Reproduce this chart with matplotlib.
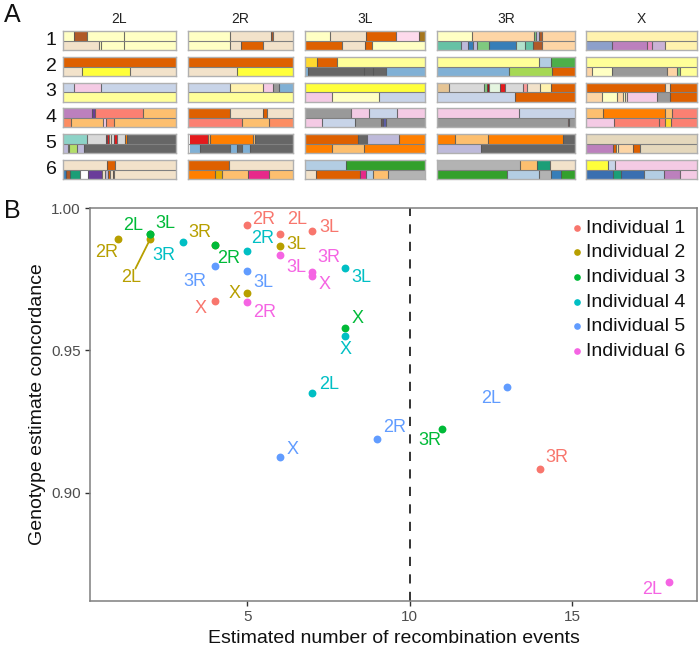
# imports
import matplotlib
matplotlib.use('Agg')
import matplotlib.pyplot as plt

plt.rcParams['font.family'] = ['Liberation Sans', 'DejaVu Sans']

# figure size in pixels, everything below is laid out in these
W, H = 700, 646

# panel A data: chromosome arm -> individual -> two haplotypes -> (segment end in %, ancestry key)
arm_names = ['2L', '2R', '3L', '3R', 'X']
individuals = ['1', '2', '3', '4', '5', '6']

segs_2L = [
    [[(10, 'ly'), (21, 'br'), (54, 'ly'), (100, 'ly')],
     [(32, 'tan'), (34, 'ly'), (54, 'ly'), (100, 'ly')]],
    [[(100, 'or')],
     [(16.5, 'tan'), (59, 'yel'), (100, 'tan')]],
    [[(9.5, 'lb'), (33.5, 'pink'), (100, 'lb')],
     [(100, 'pyel')]],
    [[(26, 'pur'), (28.5, 'dpur'), (70.6, 'sal'), (100, 'lor')],
     [(7, 'cor'), (35, 'lor'), (38, 'pink'), (45, 'cor'), (100, 'lor')]],
    [[(21, 'teal'), (38, 'lg'), (39, 'dred'), (41, 'red'), (42.5, 'tan'), (45, 'lg'), (47.5, 'red'),
      (55, 'lg'), (57, 'ora'), (100, 'dg')],
     [(4, 'lav'), (5, 'ly'), (12.4, 'lgr'), (19, 'lav'), (100, 'dg')]],
    [[(39, 'tan'), (46, 'or'), (100, 'tan')],
     [(2.6, 'bl3'), (6, 'br'), (15, 'gt'), (18, 'w'), (22, 'w'), (22.5, 'dpur'), (34.5, 'dpur'),
      (37, 'tan'), (40, 'lav'), (42, 'or'), (44, 'tan'), (45, 'br'), (100, 'tan')]],
]
segs_2R = [
    [[(40, 'ly'), (79, 'tan'), (81, 'br'), (100, 'tan')],
     [(40, 'ly'), (50, 'tan'), (71, 'or'), (100, 'tan')]],
    [[(100, 'or')],
     [(47, 'tan'), (100, 'yel')]],
    [[(1, 'w'), (40, 'lb'), (71, 'pal'), (80.5, 'pink'), (86.5, 'gr'), (100, 'bl')],
     [(1, 'w'), (100, 'pyel')]],
    [[(40, 'or'), (71, 'tan'), (75, 'or'), (100, 'tan')],
     [(51, 'sal'), (76.7, 'lor'), (100, 'cor')]],
    [[(2, 'w'), (19, 'red'), (20.5, 'lor'), (62, 'ora'), (63.5, 'lor'), (100, 'dg')],
     [(2, 'w'), (11.5, 'bl'), (40, 'dg'), (47, 'bl'), (51, 'dg'), (59, 'bl'), (100, 'dg')]],
    [[(39, 'or'), (100, 'tan')],
     [(25.5, 'ora'), (32, 'gold'), (57, 'lor'), (77, 'mag'), (100, 'lor')]],
]
segs_3L = [
    [[(21, 'ly'), (51, 'tan'), (76, 'or'), (94.7, 'lpk'), (100, 'ochre')],
     [(31, 'or'), (50, 'tan'), (55.5, 'or'), (100, 'ly')]],
    [[(10, 'yg'), (26.7, 'or'), (100, 'pyel')],
     [(2.2, 'bl'), (49.5, 'dg'), (57, 'dg'), (67.5, 'dg'), (100, 'bl')]],
    [[(100, 'yel')],
     [(22.5, 'pink'), (62, 'ly'), (100, 'lb')]],
    [[(38, 'gr'), (53.6, 'pink'), (77, 'lb'), (100, 'pink')],
     [(14, 'pink'), (41.4, 'lb'), (63, 'gr'), (64, 'br'), (65, 'pur'), (67.5, 'navy'), (100, 'gr')]],
    [[(44.4, 'or'), (51.7, 'dg'), (78, 'lav'), (100, 'ora')],
     [(22.5, 'ora'), (49.4, 'lor'), (100, 'ora')]],
    [[(34.4, 'lb2'), (100, 'grn')],
     [(9.4, 'tan'), (45.5, 'or'), (51, 'mag'), (56.7, 'lb2'), (69, 'lor'), (100, 'g3')]],
]
segs_3R = [
    [[(25, 'ly'), (70, 'pch'), (71.4, 'grm'), (73.8, 'lav'), (75.8, 'br'), (100, 'pch')],
     [(17.4, 'tg'), (22.5, 'lav'), (26, 'bl3'), (29, 'lav'), (37.8, 'grm'), (57, 'bl3'), (64, 'mint'),
      (69.7, 'tg'), (75.8, 'br'), (100, 'pch')]],
    [[(74, 'pyel'), (82.6, 'lb2'), (100, 'grn2')],
     [(52.5, 'bl'), (83.5, 'lgr2'), (100, 'or')]],
    [[(8.7, 'tor'), (34, 'lg'), (36, 'grm'), (37.5, 'dred'), (45.5, 'pgr'), (49, 'red'), (62, 'lg'),
      (65.4, 'spk'), (74.3, 'tan'), (82.5, 'pal'), (100, 'or')],
     [(56.7, 'lb'), (100, 'or')]],
    [[(59.5, 'pink'), (100, 'lb')],
     [(94.7, 'gr'), (96, 'spk'), (100, 'gr')]],
    [[(13, 'ora'), (37, 'lor'), (91, 'ora'), (100, 'dg')],
     [(32, 'lav'), (100, 'dg')]],
    [[(60.5, 'g3'), (72.5, 'lor'), (82, 'gt'), (100, 'tan')],
     [(51, 'grn'), (74, 'lb2'), (82.5, 'g3'), (90, 'bl3'), (100, 'grn')]],
]
segs_X = [
    [[(100, 'pal')],
     [(23.3, 'per'), (55, 'pur'), (59.7, 'mpk'), (71.5, 'lvp'), (100, 'pal')]],
    [[(100, 'pyel')],
     [(5, 'pch'), (23, 'ly'), (73, 'gr'), (82.4, 'pch'), (85, 'grm'), (100, 'pyel')]],
    [[(71.5, 'or'), (76, 'tan'), (100, 'or')],
     [(14, 'pch'), (28, 'ly'), (33, 'pch'), (35, 'ly'), (37, 'tan'), (64, 'pink'), (76, 'gr'), (100, 'or')]],
    [[(15, 'lor'), (71.5, 'ora'), (77.5, 'lor'), (100, 'sal')],
     [(25, 'pink'), (65.5, 'sal'), (71.5, 'sal'), (76.7, 'yg'), (100, 'sal')]],
    [[(100, 'bge')],
     [(24, 'pur'), (27, 'or'), (29, 'pal'), (42.7, 'pch'), (49, 'or'), (100, 'bge')]],
    [[(20, 'yel'), (25.8, 'lb'), (100, 'pink')],
     [(24, 'bl4'), (31.5, 'gt'), (52.7, 'bl4'), (70, 'lb2'), (85, 'pur'), (100, 'pink')]],
]
all_segs = [segs_2L, segs_2R, segs_3L, segs_3R, segs_X]

# panel B data, one set of lists per individual
ind1_x = [5, 6, 7, 4, 14]
ind1_y = [0.994, 0.991, 0.992, 0.9675, 0.9084]
ind1_arm = ['2R', '2L', '3L', 'X', '3R']

ind2_x = [1, 2, 4, 6, 5]
ind2_y = [0.989, 0.989, 0.987, 0.9865, 0.970]
ind2_arm = ['2R', '2L', '3R', '3L', 'X']

ind3_x = [2, 2, 4, 8, 11]
ind3_y = [0.991, 0.991, 0.987, 0.958, 0.9224]
ind3_arm = ['2L', '3L', '2R', 'X', '3R']

ind4_x = [3, 5, 8, 8, 7]
ind4_y = [0.988, 0.985, 0.979, 0.955, 0.935]
ind4_arm = ['3R', '2R', '3L', 'X', '2L']

ind5_x = [4, 5, 6, 9, 13]
ind5_y = [0.9795, 0.978, 0.9125, 0.919, 0.937]
ind5_arm = ['3R', '3L', 'X', '2R', '2L']

ind6_x = [6, 7, 7, 5, 18]
ind6_y = [0.9835, 0.9775, 0.976, 0.967, 0.8685]
ind6_arm = ['3L', '3R', 'X', '2R', '2L']

series_x = [ind1_x, ind2_x, ind3_x, ind4_x, ind5_x, ind6_x]
series_y = [ind1_y, ind2_y, ind3_y, ind4_y, ind5_y, ind6_y]
series_arm = [ind1_arm, ind2_arm, ind3_arm, ind4_arm, ind5_arm, ind6_arm]
legend_names = ['Individual 1', 'Individual 2', 'Individual 3',
                'Individual 4', 'Individual 5', 'Individual 6']

# styles
palette = {
    'w': '#FFFFFF', 'ly': '#FFFFC4', 'tan': '#F2E2CA', 'or': '#DE6000', 'br': '#B05A28',
    'yel': '#FFFF3A', 'pyel': '#FFFF99', 'lb': '#C8D4E8', 'pink': '#F4CAE4', 'pal': '#FFF2AE',
    'gr': '#999999', 'bl': '#80B0D5', 'pur': '#BC80BD', 'dpur': '#6A3D9A', 'sal': '#FB8072',
    'lor': '#FDBF6F', 'cor': '#FC8D62', 'teal': '#8DD3C7', 'lg': '#D9D9D9', 'dred': '#A50F15',
    'red': '#E41A1C', 'ora': '#FF7F00', 'dg': '#666666', 'lav': '#BEBADA', 'lgr': '#B3DE69',
    'bl3': '#377EB8', 'gt': '#1B9E77', 'gold': '#E6AB02', 'mag': '#E7298A', 'lpk': '#FDDAEC',
    'ochre': '#A6761D', 'yg': '#FFD92F', 'navy': '#5E5EA8', 'lb2': '#B3CDE3', 'grn': '#33A02C',
    'g3': '#B3B3B3', 'pch': '#FDD5A5', 'grm': '#7FC97F', 'tg': '#66C2A5', 'mint': '#B3E2CD',
    'grn2': '#4DAF4A', 'lgr2': '#A6D854', 'tor': '#E5C494', 'pgr': '#E5F5E0', 'spk': '#FB9A99',
    'per': '#8DA0CB', 'mpk': '#E78AC3', 'lvp': '#CAB2D6', 'bge': '#E5D8BD', 'bl4': '#3A6FB0',
}
ind_colors = ['#F8766D', '#B79F00', '#00BA38', '#00BFC4', '#619CFF', '#F564E3']

# label offsets from the point, in pixels
series_off = [
    [(16, 6), (17, 14), (17, 3), (-14, -8), (17, 11)],
    [(-11, -13), (-19, -38), (-15, 13), (16, 2), (-13, 0)],
    [(-17, 8), (15, 10), (14, -13), (13, 9), (-12, -12)],
    [(-19, -13), (15, 12), (17, -10), (1, -13), (17, 9)],
    [(-20, -15), (16, -12), (13, 8), (17, 11), (-16, -11)],
    [(16, -13), (16, 15), (12, -8), (17, -11), (-17, -7)],
]

# panel A layout in pixels
col_left = [63, 188, 305, 437, 586]
col_right = [176, 293, 425, 575, 697]
row_top = [31, 57, 82.5, 108, 134, 160]
row_h = 19


def add_px_axes(fig, left, top, right, bottom):
    return fig.add_axes([left / W, 1 - bottom / H, (right - left) / W, (bottom - top) / H])


fig = plt.figure(figsize=(W / 100, H / 100), dpi=100)

for c, arm in enumerate(arm_names):
    fig.text((col_left[c] + col_right[c]) / 2 / W, 1 - 19 / H, arm,
             ha='center', va='center', fontsize=10, color='#222222')
    for r, ind in enumerate(individuals):
        ax = add_px_axes(fig, col_left[c], row_top[r], col_right[c], row_top[r] + row_h)
        for h, hap in enumerate(all_segs[c][r]):
            start = 0
            for end, key in hap:
                ax.barh(1.5 - h, end - start, left=start, height=1, color=palette[key], linewidth=0)
                if end < 100 and key != 'w':
                    ax.plot([end, end], [1 - h, 2 - h], color='#555555', lw=0.8, alpha=0.85,
                            solid_capstyle='butt')
                start = end
        ax.axhline(1, color='#808080', lw=0.8)
        ax.set_xlim(0, 100)
        ax.set_ylim(0, 2)
        ax.set_xticks([])
        ax.set_yticks([])
        for s in ax.spines.values():
            s.set_color('#B0B0B0')
            s.set_linewidth(1.0)

for r, ind in enumerate(individuals):
    fig.text(51 / W, 1 - (row_top[r] + row_h / 2) / H, ind,
             ha='center', va='center', fontsize=14, color='#111111')

fig.text(12 / W, 1 - 15 / H, 'A', ha='center', va='center', fontsize=18, color='#111111')
fig.text(12 / W, 1 - 211 / H, 'B', ha='center', va='center', fontsize=18, color='#111111')

# panel B
ax = add_px_axes(fig, 90, 208, 697, 601)
ax.axvline(10, color='#111111', lw=1.2, dashes=(5.5, 5), zorder=1)

handles = []
for i in range(6):
    pts = ax.scatter(series_x[i], series_y[i], s=32, color=ind_colors[i], linewidths=0, zorder=3 + i * 0.1,
                     label=legend_names[i], clip_on=False)
    handles.append(pts)
    for x, y, arm, off in zip(series_x[i], series_y[i], series_arm[i], series_off[i]):
        if i == 1 and arm == '2L':
            # only label with a leader line
            ax.annotate(arm, (x, y), xytext=off, textcoords='offset pixels', ha='center', va='center',
                        fontsize=13, color=ind_colors[i],
                        arrowprops=dict(arrowstyle='-', color=ind_colors[i], lw=1.3, relpos=(0.5, 0.5),
                                        patchA=None, shrinkA=7, shrinkB=0))
        else:
            ax.annotate(arm, (x, y), xytext=off, textcoords='offset pixels', ha='center', va='center',
                        fontsize=13, color=ind_colors[i])

ax.set_xlim(0.15, 18.85)
ax.set_ylim(0.862, 1.0)
ax.set_xticks([5, 10, 15])
ax.set_yticks([0.90, 0.95, 1.00])
ax.set_yticklabels(['0.90', '0.95', '1.00'])
ax.tick_params(colors='#333333', labelcolor='#4D4D4D', labelsize=11, length=3.5, width=1.0, pad=3)
for s in ax.spines.values():
    s.set_color('#7F7F7F')
    s.set_linewidth(1.1)
ax.set_xlabel('Estimated number of recombination events', fontsize=14, color='#111111', labelpad=4)
ax.set_ylabel('Genotype estimate concordance', fontsize=14, color='#111111', labelpad=4)

leg = ax.legend(handles=handles, loc='upper right', bbox_to_anchor=(1.004, 1.006), frameon=False,
                fontsize=14, labelspacing=0.36, handletextpad=0.0, handlelength=1.0,
                borderaxespad=0.3, markerscale=0.85)
for t in leg.get_texts():
    t.set_color('#111111')

fig.savefig('out.png', dpi=100)
